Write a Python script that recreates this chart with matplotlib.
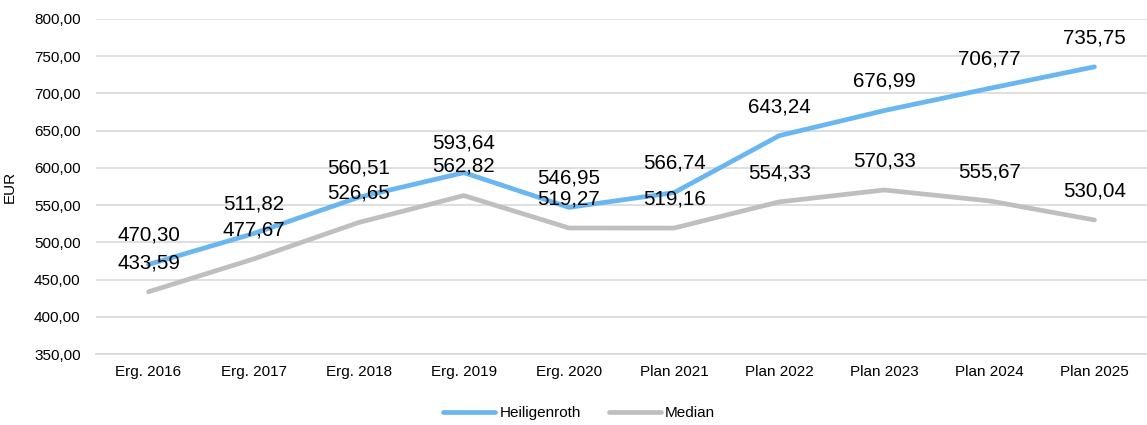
import matplotlib
matplotlib.use("Agg")
import matplotlib.pyplot as plt
from matplotlib.ticker import FuncFormatter

categories = ["Erg. 2016", "Erg. 2017", "Erg. 2018", "Erg. 2019", "Erg. 2020",
              "Plan 2021", "Plan 2022", "Plan 2023", "Plan 2024", "Plan 2025"]
heiligenroth = [470.30, 511.82, 560.51, 593.64, 546.95, 566.74, 643.24, 676.99, 706.77, 735.75]
median = [433.59, 477.67, 526.65, 562.82, 519.27, 519.16, 554.33, 570.33, 555.67, 530.04]

plt.rcParams['font.family'] = ['Liberation Sans', 'DejaVu Sans']

fig = plt.figure(figsize=(11.47, 4.25), dpi=100)
ax = fig.add_axes([96/1147, 1-354/425, (1147-96)/1147, (354-19)/425])

x = list(range(len(categories)))
blue = '#6AB6F0'
gray = '#BFBFBF'
ax.plot(x, median, color=gray, lw=3.4, solid_capstyle='round', label='Median', zorder=3)
ax.plot(x, heiligenroth, color=blue, lw=3.4, solid_capstyle='round', label='Heiligenroth', zorder=4)

def fmt(v):
    return f"{v:.2f}".replace('.', ',')

for xi, v in zip(x, heiligenroth):
    ax.annotate(fmt(v), (xi, v), xytext=(0, 21), textcoords='offset points',
                ha='center', va='center', fontsize=14.8, color='#000000', zorder=5)
for xi, v in zip(x, median):
    ax.annotate(fmt(v), (xi, v), xytext=(0, 21), textcoords='offset points',
                ha='center', va='center', fontsize=14.8, color='#000000', zorder=5)

ax.set_xlim(-0.5, len(categories) - 0.5)
ax.set_ylim(350, 800)
ax.set_yticks(range(350, 801, 50))
ax.yaxis.set_major_formatter(FuncFormatter(lambda v, p: f"{v:.2f}".replace('.', ',')))
ax.set_xticks(x)
ax.set_xticklabels(categories)
ax.tick_params(axis='both', length=0, labelsize=11, colors='#000000')
ax.tick_params(axis='y', pad=11)
ax.tick_params(axis='x', pad=8)
ax.grid(axis='y', color='#D9D9D9', lw=1.2)
ax.set_axisbelow(True)
for s in ['top', 'right', 'left']:
    ax.spines[s].set_visible(False)
ax.spines['bottom'].set_color('#D9D9D9')
ax.spines['bottom'].set_linewidth(1.2)

ax.set_ylabel('EUR', fontsize=11)
ax.yaxis.set_label_coords(-0.075, 0.5)

handles, labels = ax.get_legend_handles_labels()
leg = fig.legend([handles[1], handles[0]], [labels[1], labels[0]], loc='center',
                 bbox_to_anchor=(0.505, 1-413/425), ncol=2, frameon=False, fontsize=11,
                 handlelength=3.4, handletextpad=0.3, columnspacing=1.8)

fig.savefig('out.png', dpi=100)
